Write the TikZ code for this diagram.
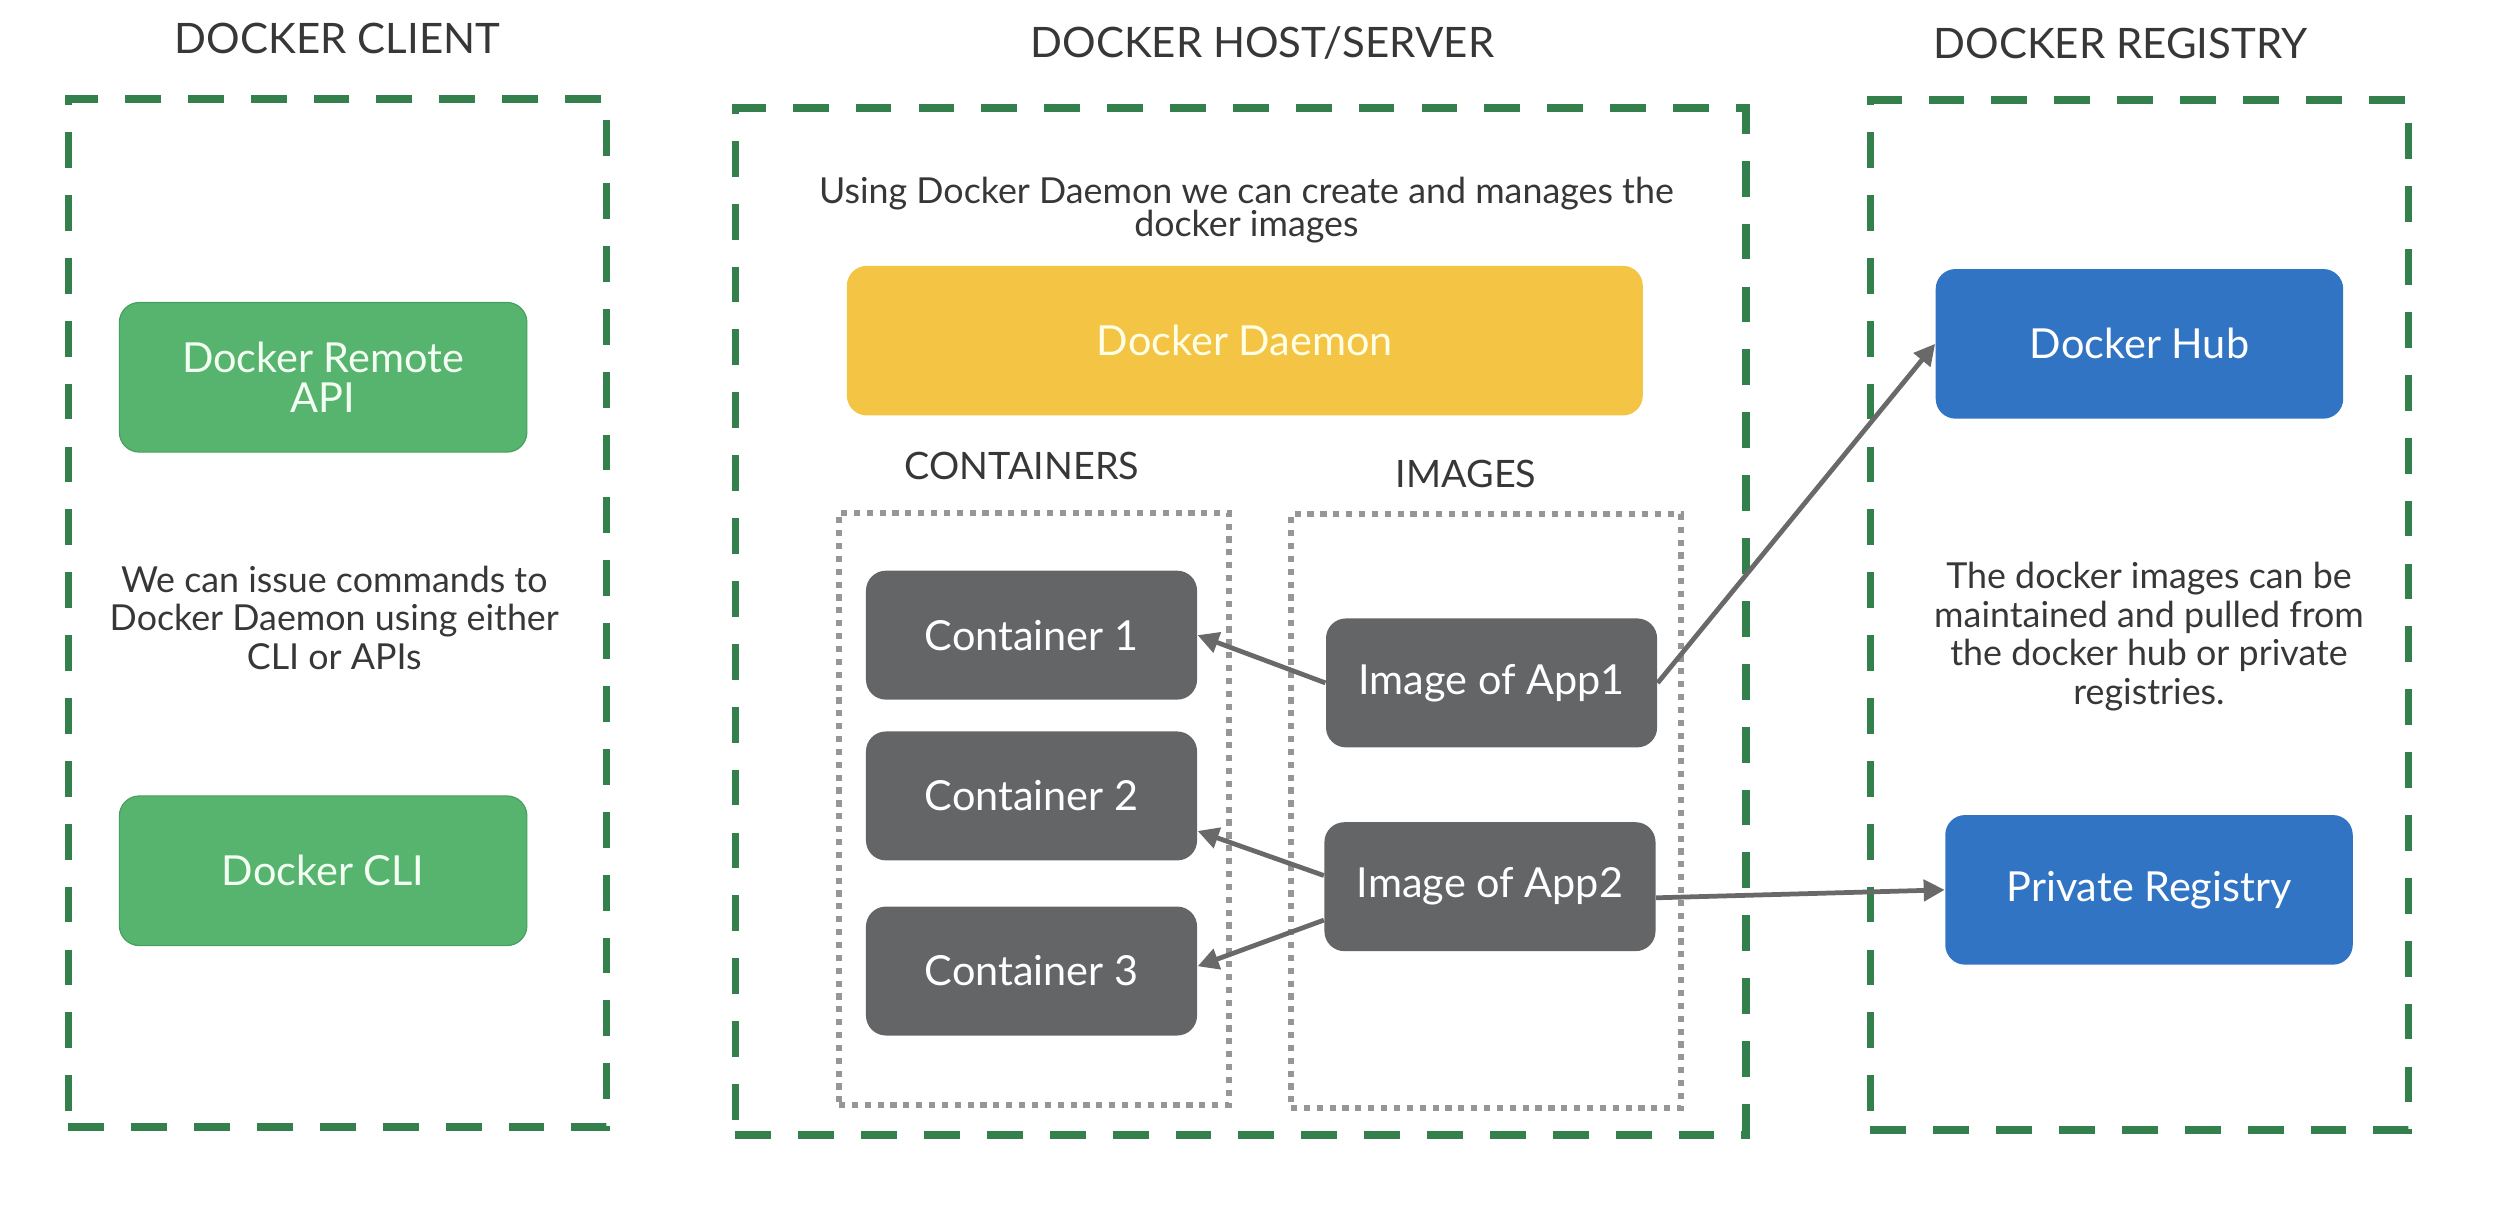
\documentclass[tikz,border=0pt]{standalone}
\usepackage{fontspec}
\setmainfont{Lato}
\usepackage{xcolor}
\definecolor{groupgreen}{RGB}{52,128,76}
\definecolor{boxgreen}{RGB}{86,180,110}
\definecolor{boxgreenline}{RGB}{70,158,95}
\definecolor{daemonyellow}{RGB}{244,196,68}
\definecolor{darkgrey}{RGB}{99,101,102}
\definecolor{regblue}{RGB}{50,116,196}
\definecolor{dotgrey}{RGB}{150,150,150}
\definecolor{textgrey}{RGB}{55,55,55}
\definecolor{arrowgrey}{RGB}{105,105,105}
\usepackage{tikz}
\usetikzlibrary{arrows.meta}
\tikzset{
    group/.style={draw=groupgreen, line width=2.8pt, dash pattern=on 0.45cm off 0.34cm},
    subgroup/.style={draw=dotgrey, line width=2.2pt, dash pattern=on 2.2pt off 2.4pt},
    title/.style={text=textgrey, font=\fontsize{15}{18}\selectfont},
    note/.style={text=textgrey, align=center, font=\fontsize{12.8}{13.8}\selectfont},
    common/.style={rounded corners=0.25cm, align=center, font=\fontsize{14.8}{14.5}\selectfont},
    client/.style={common, fill=boxgreen, draw=boxgreenline, text=green!5, minimum width=5.12cm, minimum height=1.88cm},
    daemon/.style={common, fill=daemonyellow, text=yellow!10, minimum width=10cm, minimum height=1.88cm},
    item/.style={common, fill=darkgrey, text=white, minimum width=4.16cm, minimum height=1.62cm},
    registry/.style={common, fill=regblue, text=white, minimum width=5.12cm, minimum height=1.88cm},
    link/.style={draw=arrowgrey, line width=1.7pt, -{Triangle[length=7.5pt,width=7.5pt]}}
}

\begin{document}
\begin{tikzpicture}
      \useasboundingbox (0,0) rectangle (31.36,-15.32);

      \path
          (4.24,-0.48) node[title] (client-title) {DOCKER CLIENT}
          (4.24,-7.70) node[group, minimum width=6.76cm, minimum height=12.92cm] (client-group) {}
          (4.06,-4.74) node[client] (remote-api) {Docker Remote\\API}
          (4.20,-7.76) node[note] (client-note) {We can issue commands to\\Docker Daemon using either\\CLI or APIs}
          (4.06,-10.94) node[client] (docker-cli) {Docker CLI};

      \path
          (15.86,-0.54) node[title] (host-title) {DOCKER HOST/SERVER}
          (15.59,-7.81) node[group, minimum width=12.7cm, minimum height=12.9cm] (host-group) {}
          (15.66,-2.64) node[note] (host-note) {Using Docker Daemon we can create and manages the\\[-2pt]docker images}
          (15.64,-4.28) node[daemon] (docker-daemon) {Docker Daemon}
          (12.84,-5.86) node[title, font=\fontsize{13.5}{16}\selectfont] (containers-title) {CONTAINERS}
          (18.42,-5.96) node[title, font=\fontsize{13.5}{16}\selectfont] (images-title) {IMAGES}
          (12.99,-10.16) node[subgroup, minimum width=4.9cm, minimum height=7.44cm] (containers-group) {}
          (18.67,-10.19) node[subgroup, minimum width=4.9cm, minimum height=7.46cm] (images-group) {}
          (12.96,-7.98) node[item] (container-1) {Container 1}
          (12.96,-10.00) node[item] (container-2) {Container 2}
          (12.96,-12.20) node[item] (container-3) {Container 3}
          (18.74,-8.58) node[item] (image-app1) {Image of App1}
          (18.72,-11.14) node[item] (image-app2) {Image of App2};

      \path
          (26.64,-0.54) node[title] (registry-title) {DOCKER REGISTRY}
          (26.88,-7.73) node[group, minimum width=6.76cm, minimum height=12.94cm] (registry-group) {}
          (26.88,-4.32) node[registry] (docker-hub) {Docker Hub}
          (27.00,-8.00) node[note] (registry-note) {The docker images can be\\maintained and pulled from\\the docker hub or private\\registries.}
          (27.00,-11.18) node[registry] (private-registry) {Private Registry};

      \draw[link] (image-app1.west) -- (container-1.east);
      \draw[link] ([yshift=0.14cm]image-app2.west) -- ([yshift=-0.44cm]container-2.east);
      \draw[link] ([yshift=-0.42cm]image-app2.west) -- ([yshift=0.06cm]container-3.east);
      \draw[link] (image-app1.east) -- (docker-hub.west);
      \draw[link] ([yshift=-0.14cm]image-app2.east) -- (private-registry.west);
\end{tikzpicture}
\end{document}
